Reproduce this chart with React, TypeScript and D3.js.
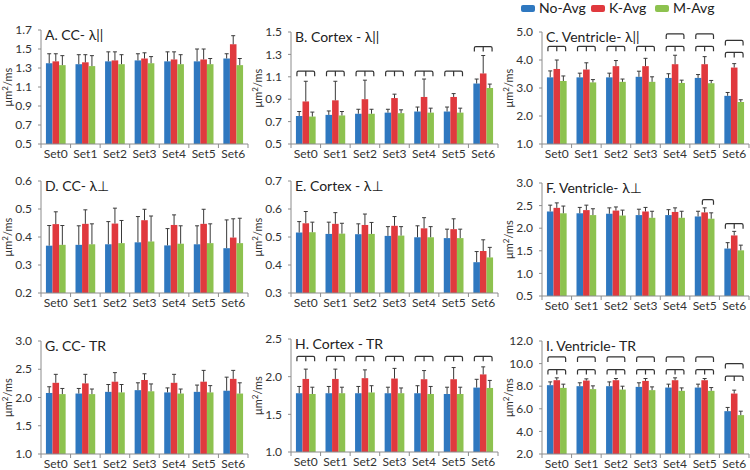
import React from "react";
import * as d3 from "d3";

const sets = ["Set0", "Set1", "Set2", "Set3", "Set4", "Set5", "Set6"];
const seriesNames = ["No-Avg", "K-Avg", "M-Avg"];
const seriesColors = ["#2f78c0", "#e0393e", "#8dc24f"];

// A. CC - λ||
const aNoAvg = [1.35, 1.34, 1.37, 1.38, 1.37, 1.37, 1.40];
const aNoAvgSd = [0.10, 0.10, 0.10, 0.07, 0.10, 0.13, 0.05];
const aKAvg = [1.37, 1.36, 1.38, 1.40, 1.39, 1.39, 1.55];
const aKAvgSd = [0.08, 0.08, 0.09, 0.06, 0.08, 0.11, 0.09];
const aMAvg = [1.33, 1.32, 1.34, 1.35, 1.34, 1.34, 1.33];
const aMAvgSd = [0.10, 0.11, 0.10, 0.07, 0.10, 0.06, 0.07];

// B. Cortex - λ||
const bNoAvg = [0.75, 0.76, 0.77, 0.78, 0.79, 0.79, 1.04];
const bNoAvgSd = [0.04, 0.035, 0.04, 0.03, 0.04, 0.04, 0.04];
const bKAvg = [0.88, 0.89, 0.90, 0.91, 0.92, 0.92, 1.13];
const bKAvgSd = [0.18, 0.17, 0.17, 0.035, 0.16, 0.03, 0.16];
const bMAvg = [0.745, 0.755, 0.77, 0.775, 0.78, 0.78, 1.0];
const bMAvgSd = [0.04, 0.035, 0.04, 0.03, 0.04, 0.04, 0.035];

// C. Ventricle - λ||
const cNoAvg = [3.38, 3.38, 3.38, 3.40, 3.36, 3.36, 2.72];
const cNoAvgSd = [0.23, 0.15, 0.15, 0.20, 0.15, 0.12, 0.12];
const cKAvg = [3.68, 3.66, 3.78, 3.78, 3.85, 3.85, 3.73];
const cKAvgSd = [0.32, 0.24, 0.20, 0.28, 0.32, 0.27, 0.14];
const cMAvg = [3.25, 3.20, 3.22, 3.22, 3.18, 3.17, 2.50];
const cMAvgSd = [0.18, 0.10, 0.10, 0.18, 0.10, 0.10, 0.08];

// D. CC - λ⊥
const dNoAvg = [0.369, 0.372, 0.374, 0.381, 0.37, 0.374, 0.36];
const dNoAvgSd = [0.072, 0.068, 0.081, 0.092, 0.06, 0.066, 0.101];
const dKAvg = [0.446, 0.447, 0.448, 0.46, 0.443, 0.447, 0.398];
const dKAvgSd = [0.044, 0.05, 0.055, 0.039, 0.036, 0.052, 0.067];
const dMAvg = [0.372, 0.374, 0.378, 0.384, 0.376, 0.378, 0.378];
const dMAvgSd = [0.069, 0.073, 0.081, 0.091, 0.064, 0.069, 0.089];

// E. Cortex - λ⊥
const eNoAvg = [0.516, 0.511, 0.51, 0.504, 0.499, 0.496, 0.41];
const eNoAvgSd = [0.039, 0.042, 0.037, 0.033, 0.041, 0.032, 0.038];
const eKAvg = [0.549, 0.547, 0.543, 0.54, 0.531, 0.528, 0.45];
const eKAvgSd = [0.042, 0.04, 0.039, 0.033, 0.038, 0.037, 0.04];
const eMAvg = [0.517, 0.512, 0.511, 0.505, 0.499, 0.496, 0.427];
const eMAvgSd = [0.036, 0.037, 0.041, 0.032, 0.038, 0.032, 0.036];

// F. Ventricle - λ⊥
const fNoAvg = [2.37, 2.33, 2.32, 2.29, 2.29, 2.26, 1.55];
const fNoAvgSd = [0.14, 0.13, 0.13, 0.13, 0.12, 0.115, 0.13];
const fKAvg = [2.45, 2.40, 2.39, 2.37, 2.36, 2.35, 1.84];
const fKAvgSd = [0.11, 0.11, 0.08, 0.09, 0.09, 0.10, 0.09];
const fMAvg = [2.33, 2.29, 2.28, 2.23, 2.23, 2.21, 1.51];
const fMAvgSd = [0.16, 0.14, 0.12, 0.145, 0.145, 0.13, 0.115];

// G. CC - TR
const gNoAvg = [2.08, 2.07, 2.10, 2.13, 2.09, 2.10, 2.12];
const gNoAvgSd = [0.11, 0.09, 0.13, 0.13, 0.08, 0.12, 0.24];
const gKAvg = [2.26, 2.25, 2.28, 2.31, 2.26, 2.28, 2.33];
const gKAvgSd = [0.15, 0.16, 0.16, 0.11, 0.15, 0.20, 0.15];
const gMAvg = [2.06, 2.06, 2.09, 2.11, 2.07, 2.09, 2.07];
const gMAvgSd = [0.10, 0.09, 0.14, 0.13, 0.08, 0.12, 0.19];

// H. Cortex - TR
const hNoAvg = [1.78, 1.78, 1.78, 1.78, 1.78, 1.77, 1.855];
const hNoAvgSd = [0.09, 0.09, 0.09, 0.08, 0.10, 0.09, 0.11];
const hKAvg = [1.97, 1.97, 1.98, 1.975, 1.966, 1.966, 2.03];
const hKAvgSd = [0.13, 0.13, 0.11, 0.135, 0.115, 0.155, 0.10];
const hMAvg = [1.77, 1.78, 1.79, 1.78, 1.77, 1.77, 1.85];
const hMAvgSd = [0.09, 0.08, 0.09, 0.07, 0.10, 0.09, 0.10];

// I. Ventricle - TR
const iNoAvg = [8.09, 8.0, 8.0, 7.94, 7.88, 7.88, 5.79];
const iNoAvgSd = [0.29, 0.30, 0.38, 0.36, 0.30, 0.30, 0.33];
const iKAvg = [8.53, 8.50, 8.53, 8.47, 8.53, 8.53, 7.35];
const iKAvgSd = [0.21, 0.15, 0.15, 0.21, 0.21, 0.15, 0.30];
const iMAvg = [7.85, 7.74, 7.70, 7.65, 7.59, 7.59, 5.44];
const iMAvgSd = [0.33, 0.29, 0.30, 0.29, 0.26, 0.29, 0.35];

// significance brackets: [set index, value level, kind]
type Br = [number, number, "triple" | "pairNM" | "pairKM"];
const bBrackets: Br[] = [[0, 1.15, "triple"], [1, 1.15, "triple"], [2, 1.15, "triple"], [3, 1.15, "triple"], [4, 1.15, "triple"], [5, 1.15, "triple"], [6, 1.37, "triple"]];
const cBrackets: Br[] = [[0, 4.49, "triple"], [1, 4.49, "triple"], [2, 4.49, "triple"], [3, 4.49, "triple"], [4, 4.49, "triple"], [4, 4.93, "pairNM"], [5, 4.49, "triple"], [5, 4.93, "pairNM"], [6, 4.27, "triple"], [6, 4.70, "pairNM"]];
const fBrackets: Br[] = [[5, 2.63, "pairKM"], [6, 2.10, "triple"]];
const hBrackets: Br[] = [[0, 2.27, "triple"], [1, 2.27, "triple"], [2, 2.27, "triple"], [3, 2.27, "triple"], [4, 2.27, "triple"], [5, 2.27, "triple"], [6, 2.27, "triple"]];
const iBrackets: Br[] = [[0, 9.47, "triple"], [0, 10.59, "pairNM"], [1, 9.47, "triple"], [1, 10.59, "pairNM"], [2, 9.47, "triple"], [2, 10.59, "pairNM"], [3, 9.47, "triple"], [3, 10.59, "pairNM"], [4, 9.47, "triple"], [4, 10.59, "pairNM"], [5, 9.47, "triple"], [5, 10.59, "pairNM"], [6, 8.9, "triple"], [6, 10.0, "pairNM"]];

const aTicks = [0.5, 0.7, 0.9, 1.1, 1.3, 1.5, 1.7];
const bTicks = [0.5, 0.7, 0.9, 1.1, 1.3, 1.5];
const cTicks = [1, 2, 3, 4, 5];
const dTicks = [0.2, 0.3, 0.4, 0.5, 0.6];
const eTicks = [0.3, 0.4, 0.5, 0.6, 0.7];
const fTicks = [0.5, 1.0, 1.5, 2.0, 2.5, 3.0];
const gTicks = [1.0, 1.5, 2.0, 2.5, 3.0];
const hTicks = [1.0, 1.5, 2.0, 2.5];
const iTicks = [2, 4, 6, 8, 10, 12];

const FONT = "Lato, 'Open Sans', 'DejaVu Sans', sans-serif";
const AXIS = "#8c8c8c";
const TEXT = "#333";

type PanelProps = {
  x: number; top: number; bottom: number; width: number;
  ticks: number[]; title: string;
  means: number[][]; sds: number[][]; brackets?: Br[];
};

function Panel({ x, top, bottom, width, ticks, title, means, sds, brackets = [] }: PanelProps) {
  const y = d3.scaleLinear().domain([ticks[0], ticks[ticks.length - 1]]).range([bottom, top]);
  const xb = d3.scaleBand<string>().domain(sets).range([x, x + width]);
  const xs = d3.scaleBand<string>().domain(["0", "1", "2"]).range([0, xb.bandwidth()]).paddingInner(0).paddingOuter(0.75);
  const bw = xs.bandwidth();
  const fmt = d3.format(".1f");
  const cap = 2;
  const bracketPath = (b: Br) => {
    const [si, lvl, kind] = b;
    const gx = xb(sets[si])!;
    const yb = y(lvl);
    const leg = 5, r = 1.5;
    let x0: number, x1: number;
    if (kind === "pairKM") {
      x0 = gx + xs("1")! + 1;
      x1 = gx + xs("2")! + bw - 1;
    } else {
      x0 = gx + xs("0")! + 1;
      x1 = gx + xs("2")! + bw - 1;
    }
    let p = `M${x0},${yb + leg}V${yb + r}Q${x0},${yb} ${x0 + r},${yb}H${x1 - r}Q${x1},${yb} ${x1},${yb + r}V${yb + leg}`;
    if (kind === "triple") {
      const xm = gx + xs("1")! + bw / 2;
      p += `M${xm},${yb}V${yb + leg}`;
    }
    return p;
  };
  return (
    <g>
      {sets.map((s, si) => (
        <g key={s}>
          {[0, 1, 2].map((k) => {
            const bx = xb(s)! + xs(String(k))!;
            const v = means[k][si];
            return (
              <rect key={k} x={bx} y={y(v)} width={bw} height={y(ticks[0]) - y(v)} fill={seriesColors[k]} />
            );
          })}
          {[0, 1, 2].map((k) => {
            const cx = xb(s)! + xs(String(k))! + bw / 2;
            const v = means[k][si];
            const t = v + sds[k][si];
            return (
              <g key={"e" + k} stroke="#3a3a3a" strokeWidth={1}>
                <line x1={cx} x2={cx} y1={y(v)} y2={y(t)} />
                <line x1={cx - cap} x2={cx + cap} y1={y(t)} y2={y(t)} />
              </g>
            );
          })}
        </g>
      ))}
      {brackets.map((b, i) => (
        <path key={i} d={bracketPath(b)} fill="none" stroke="#333" strokeWidth={1.2} />
      ))}
      {/* y axis */}
      <line x1={x} x2={x} y1={top} y2={bottom} stroke={AXIS} />
      {ticks.map((t) => (
        <g key={t}>
          <line x1={x - 3} x2={x} y1={y(t)} y2={y(t)} stroke={AXIS} />
          <text x={x - 9} y={y(t)} dy="0.35em" textAnchor="end" fontSize={12} fill={TEXT} fontFamily={FONT}>{fmt(t)}</text>
        </g>
      ))}
      {/* x axis */}
      <line x1={x} x2={x + width} y1={bottom} y2={bottom} stroke={AXIS} />
      {sets.map((s) => (
        <line key={"t" + s} x1={xb(s)!} x2={xb(s)!} y1={bottom} y2={bottom + 4} stroke={AXIS} />
      ))}
      <line x1={x + width} x2={x + width} y1={bottom} y2={bottom + 4} stroke={AXIS} />
      {sets.map((s) => (
        <text key={"l" + s} x={xb(s)! + xb.bandwidth() / 2} y={bottom + 14} textAnchor="middle" fontSize={12} fill={TEXT} fontFamily={FONT}>{s}</text>
      ))}
      <text transform={`translate(${x - 29},${(top + bottom) / 2}) rotate(-90)`} textAnchor="middle" fontSize={11} fill={TEXT} fontFamily={FONT}>
        μm<tspan fontSize={8} dy={-4}>2</tspan><tspan dy={4}>/ms</tspan>
      </text>
      <text x={x + 4} y={top + 10} fontSize={14} fill="#222" fontFamily={FONT}>{title}</text>
    </g>
  );
}

export default function App() {
  const W = 207;
  const cols = [41, 291, 542];
  return (
    <svg width={750} height={470} style={{ position: "absolute", left: 0, top: 0, background: "#fff" }}>
      <rect width={750} height={470} fill="#fff" />
      <Panel x={cols[0]} top={30} bottom={144} width={W} ticks={aTicks} title="A. CC- λ||"
        means={[aNoAvg, aKAvg, aMAvg]} sds={[aNoAvgSd, aKAvgSd, aMAvgSd]} />
      <Panel x={cols[1]} top={32} bottom={144} width={W} ticks={bTicks} title="B. Cortex - λ||"
        means={[bNoAvg, bKAvg, bMAvg]} sds={[bNoAvgSd, bKAvgSd, bMAvgSd]} brackets={bBrackets} />
      <Panel x={cols[2]} top={32} bottom={144} width={W} ticks={cTicks} title="C. Ventricle- λ||"
        means={[cNoAvg, cKAvg, cMAvg]} sds={[cNoAvgSd, cKAvgSd, cMAvgSd]} brackets={cBrackets} />

      <Panel x={cols[0]} top={181} bottom={293} width={W} ticks={dTicks} title="D. CC- λ⊥"
        means={[dNoAvg, dKAvg, dMAvg]} sds={[dNoAvgSd, dKAvgSd, dMAvgSd]} />
      <Panel x={cols[1]} top={181} bottom={293} width={W} ticks={eTicks} title="E. Cortex - λ⊥"
        means={[eNoAvg, eKAvg, eMAvg]} sds={[eNoAvgSd, eKAvgSd, eMAvgSd]} />
      <Panel x={cols[2]} top={183} bottom={296} width={W} ticks={fTicks} title="F. Ventricle- λ⊥"
        means={[fNoAvg, fKAvg, fMAvg]} sds={[fNoAvgSd, fKAvgSd, fMAvgSd]} brackets={fBrackets} />

      <Panel x={cols[0]} top={341} bottom={454} width={W} ticks={gTicks} title="G. CC- TR"
        means={[gNoAvg, gKAvg, gMAvg]} sds={[gNoAvgSd, gKAvgSd, gMAvgSd]} />
      <Panel x={cols[1]} top={339} bottom={452} width={W} ticks={hTicks} title="H. Cortex - TR"
        means={[hNoAvg, hKAvg, hMAvg]} sds={[hNoAvgSd, hKAvgSd, hMAvgSd]} brackets={hBrackets} />
      <Panel x={cols[2]} top={341} bottom={454} width={W} ticks={iTicks} title="I. Ventricle- TR"
        means={[iNoAvg, iKAvg, iMAvg]} sds={[iNoAvgSd, iKAvgSd, iMAvgSd]} brackets={iBrackets} />

      {/* legend */}
      {seriesNames.map((n, i) => {
        const lx = [521, 591, 655][i];
        return (
          <g key={n}>
            <rect x={lx} y={5} width={14} height={7} rx={2} fill={seriesColors[i]} />
            <text x={lx + 18} y={8.5} dy="0.35em" fontSize={14} fill="#222" fontFamily={FONT}>{n}</text>
          </g>
        );
      })}
    </svg>
  );
}
